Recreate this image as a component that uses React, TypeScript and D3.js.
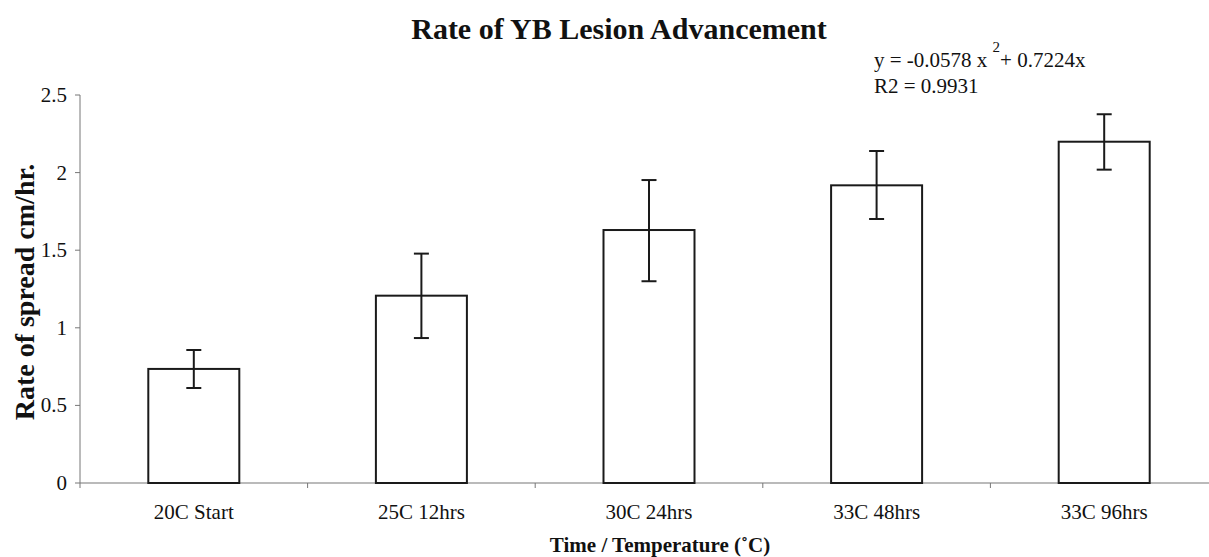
import React from "react";
import * as d3 from "d3";

const categories = ["20C Start", "25C 12hrs", "30C 24hrs", "33C 48hrs", "33C 96hrs"];
const values = [0.735, 1.207, 1.63, 1.918, 2.199];
const errHigh = [0.857, 1.478, 1.952, 2.139, 2.376];
const errLow = [0.612, 0.934, 1.3, 1.701, 2.019];
const yTicks = [0, 0.5, 1, 1.5, 2, 2.5];
const yTickLabels = ["0", "0.5", "1", "1.5", "2", "2.5"];

const W = 1209;
const H = 557;
const FONT = "'Liberation Serif', 'DejaVu Serif', serif";

export default function App() {
  const band = d3.scaleBand<string>().domain(categories).range([80, 1218]).padding(0);
  const y = d3.scaleLinear().domain([0, 2.5]).range([483, 95]);
  const bw = 91;
  const cap = 7.5;
  const axisColor = "#777";

  return (
    <svg width={W} height={H} style={{ position: "absolute", left: 0, top: 0, background: "#fff" }} fontFamily={FONT}>
      <rect x={0} y={0} width={W} height={H} fill="#fff" />
      <text x={619} y={39} textAnchor="middle" fontWeight="bold" fontSize={30} fill="#111">
        Rate of YB Lesion Advancement
      </text>
      <text x={874} y={67} fontSize={21} fill="#111">
        y = -0.0578 x <tspan dy={-15} fontSize={15}>2</tspan><tspan dy={15}>+ 0.7224x</tspan>
      </text>
      <text x={874} y={93} fontSize={21} fill="#111">R2 = 0.9931</text>

      {/* y axis */}
      <line x1={80} x2={80} y1={y(2.5)} y2={y(0)} stroke={axisColor} strokeWidth={1} />
      {yTicks.map((t, i) => (
        <g key={t}>
          <line x1={75} x2={80} y1={y(t)} y2={y(t)} stroke={axisColor} strokeWidth={1} />
          <text x={67} y={y(t) + 7} textAnchor="end" fontSize={21} fill="#111">
            {yTickLabels[i]}
          </text>
        </g>
      ))}
      {/* x axis */}
      <line x1={80} x2={W} y1={y(0)} y2={y(0)} stroke={axisColor} strokeWidth={1.2} />
      {categories.map((c) => (
        <line key={c + "t"} x1={band(c)!} x2={band(c)!} y1={y(0)} y2={y(0) + 5} stroke={axisColor} strokeWidth={1} />
      ))}

      {categories.map((c, i) => {
        const cx = band(c)! + band.bandwidth() / 2;
        return (
          <g key={c}>
            <rect x={cx - bw / 2} y={y(values[i])} width={bw} height={y(0) - y(values[i])} fill="#fff" stroke="#1a1a1a" strokeWidth={2} />
            <line x1={cx} x2={cx} y1={y(errHigh[i])} y2={y(errLow[i])} stroke="#1a1a1a" strokeWidth={2} />
            <line x1={cx - cap} x2={cx + cap} y1={y(errHigh[i])} y2={y(errHigh[i])} stroke="#1a1a1a" strokeWidth={2} />
            <line x1={cx - cap} x2={cx + cap} y1={y(errLow[i])} y2={y(errLow[i])} stroke="#1a1a1a" strokeWidth={2} />
            <text x={cx} y={519} textAnchor="middle" fontSize={21} fill="#111">
              {c}
            </text>
          </g>
        );
      })}

      <text x={660} y={552} textAnchor="middle" fontWeight="bold" fontSize={21} fill="#111">
        Time / Temperature (˚C)
      </text>
      <text transform={`translate(34, 292) rotate(-90)`} textAnchor="middle" fontWeight="bold" fontSize={28} fill="#111">
        Rate of spread cm/hr.
      </text>
    </svg>
  );
}
